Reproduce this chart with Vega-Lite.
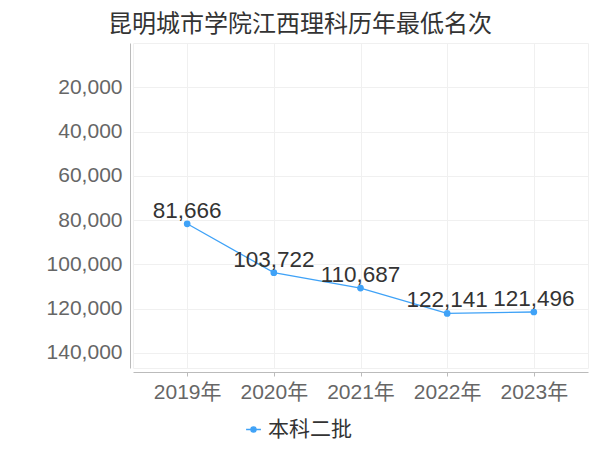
{
  "$schema": "https://vega.github.io/schema/vega-lite/v6.json",
  "autosize": "none",
  "width": 455,
  "height": 325,
  "padding": {"left": 133, "top": 43, "right": 12, "bottom": 82},
  "background": "white",
  "title": {
    "text": "昆明城市学院江西理科历年最低名次",
    "font": "Noto Sans CJK SC",
    "fontSize": 24,
    "fontWeight": "normal",
    "color": "#333333",
    "anchor": "start",
    "frame": "bounds",
    "dx": 62,
    "offset": 6
  },
  "config": {
    "view": {"stroke": "#f0f0f0", "strokeWidth": 1},
    "font": "Liberation Sans, Noto Sans CJK SC"
  },
  "data": {
    "values": [
      {"year": "2019年", "rank": 81666, "series": "本科二批"},
      {"year": "2020年", "rank": 103722, "series": "本科二批"},
      {"year": "2021年", "rank": 110687, "series": "本科二批"},
      {"year": "2022年", "rank": 122141, "series": "本科二批"},
      {"year": "2023年", "rank": 121496, "series": "本科二批"}
    ]
  },
  "encoding": {
    "x": {
      "field": "year",
      "type": "ordinal",
      "scale": {"type": "point", "padding": 0.625},
      "axis": {
        "title": null,
        "labelAngle": 0,
        "labelFont": "Liberation Sans, Noto Sans CJK SC",
        "labelFontSize": 21,
        "labelColor": "#666666",
        "labelPadding": 5,
        "domainColor": "#bbbbbb",
        "tickColor": "#bbbbbb",
        "tickSize": 4,
        "offset": 4,
        "grid": true,
        "gridColor": "#f0f0f0"
      }
    },
    "y": {
      "field": "rank",
      "type": "quantitative",
      "scale": {"domain": [0, 146800], "reverse": true, "nice": false, "zero": false},
      "axis": {
        "title": null,
        "values": [20000, 40000, 60000, 80000, 100000, 120000, 140000],
        "format": ",d",
        "labelFont": "Liberation Sans",
        "labelFontSize": 21,
        "labelColor": "#666666",
        "labelPadding": 8,
        "ticks": false,
        "domainColor": "#bbbbbb",
        "offset": 3,
        "grid": true,
        "gridColor": "#f0f0f0"
      }
    }
  },
  "layer": [
    {
      "mark": {"type": "line", "color": "#3fa2f7", "strokeWidth": 1.3, "point": {"filled": true, "size": 45, "color": "#3fa2f7"}},
      "encoding": {
        "color": {
          "field": "series",
          "type": "nominal",
          "scale": {"range": ["#3fa2f7"]},
          "legend": {
            "title": null,
            "orient": "none",
            "legendX": 110,
            "legendY": 376,
            "labelFont": "Noto Sans CJK SC",
            "labelFontSize": 21,
            "labelColor": "#333333",
            "symbolType": "M-1,0L-0.35,0M0.35,0L1,0M-0.35,0A0.35,0.35,0,1,1,0.35,0A0.35,0.35,0,1,1,-0.35,0Z",
            "symbolFillColor": "#3fa2f7",
            "symbolStrokeColor": "#3fa2f7",
            "symbolSize": 220,
            "symbolStrokeWidth": 1.3,
            "labelOffset": 4
          }
        }
      }
    },
    {
      "mark": {"type": "text", "font": "Liberation Sans", "fontSize": 22.5, "color": "#333333", "dy": -6, "baseline": "alphabetic"},
      "encoding": {
        "text": {"field": "rank", "type": "quantitative", "format": ",d"}
      }
    }
  ]
}
